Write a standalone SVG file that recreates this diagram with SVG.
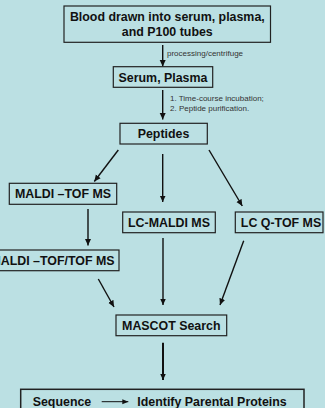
<svg xmlns="http://www.w3.org/2000/svg" width="325" height="408" viewBox="0 0 325 408">
<style>
.box{fill:#bbe0e3;stroke:#222;stroke-width:1.2}
.t{font-family:"Liberation Sans",Arial,sans-serif;font-weight:bold;font-size:12.4px;fill:#111;text-anchor:middle}
.s{font-family:"Liberation Sans",Arial,sans-serif;font-size:8px;fill:#333}
.c{stroke:#111;stroke-width:1.4;fill:none;marker-end:url(#ah)}
</style>
<defs>
<marker id="ah" markerUnits="userSpaceOnUse" markerWidth="8" markerHeight="8" refX="6.5" refY="3.5" orient="auto">
<path d="M0,0.5 L6.5,3.5 L0,6.5 Z" fill="#111"/>
</marker>
<marker id="ah2" markerUnits="userSpaceOnUse" markerWidth="8" markerHeight="8" refX="6" refY="3" orient="auto">
<path d="M0,0.5 L6,3 L0,5.5 Z" fill="#111"/>
</marker>
</defs>
<rect width="325" height="408" fill="#bbe0e3"/>
<g id="connectors">
<path class="c" d="M162.7,45 V66.5"/>
<path class="c" d="M162.7,90 V119.5"/>
<path class="c" d="M118.3,150 L94.3,181.5"/>
<path class="c" d="M162.7,154 V202"/>
<path class="c" d="M209,150 L242.3,206"/>
<path class="c" d="M88,209 V245.5"/>
<path class="c" d="M98.3,279 L114,307"/>
<path class="c" d="M163,238 V305"/>
<path class="c" d="M243.7,240.7 L220,305"/>
<path class="c" style="stroke-width:2" d="M163,342.7 V380"/>
</g>
<g id="labels">
<text class="s" x="167" y="55.5">processing/centrifuge</text>
<text class="s" x="170" y="101">1. Time-course incubation;</text>
<text class="s" x="170" y="110.5">2. Peptide purification.</text>
</g>
<g id="blood">
<rect class="box" x="64" y="6" width="206.5" height="36.3"/>
<text class="t" x="167.3" y="20.7">Blood drawn into serum, plasma,</text>
<text class="t" x="167.3" y="36">and P100 tubes</text>
</g>
<g id="serum">
<rect class="box" x="113.3" y="66.7" width="99.4" height="20.6"/>
<text class="t" x="163" y="81.8">Serum, Plasma</text>
</g>
<g id="peptides">
<rect class="box" x="120" y="123.3" width="87.3" height="20.7"/>
<text class="t" x="163.5" y="138.3">Peptides</text>
</g>
<g id="malditof">
<rect class="box" x="9.3" y="183.3" width="107.4" height="21"/>
<text class="t" x="63" y="198.3">MALDI –TOF MS</text>
</g>
<g id="lcmaldi">
<rect class="box" x="122.7" y="212" width="92.6" height="20.7"/>
<text class="t" x="169" y="227">LC-MALDI MS</text>
</g>
<g id="lcqtof">
<rect class="box" x="235.3" y="212" width="87.7" height="20.7"/>
<text class="t" x="281" y="227">LC Q-TOF MS</text>
</g>
<g id="maldítoftof">
<rect class="box" x="-14" y="250" width="133" height="20.7"/>
<text class="t" x="52.5" y="265.3">MALDI –TOF/TOF MS</text>
</g>
<g id="mascot">
<rect class="box" x="116" y="315" width="110.7" height="20.7"/>
<text class="t" x="171.3" y="330">MASCOT Search</text>
</g>
<g id="sequence">
<rect class="box" style="stroke-width:1.5" x="20.7" y="389.3" width="283.3" height="30"/>
<text class="t" x="62" y="406">Sequence</text>
<line x1="101.7" y1="401.7" x2="128.3" y2="401.7" stroke="#111" stroke-width="1" marker-end="url(#ah2)"/>
<text class="t" x="212" y="406">Identify Parental Proteins</text>
</g>
</svg>
